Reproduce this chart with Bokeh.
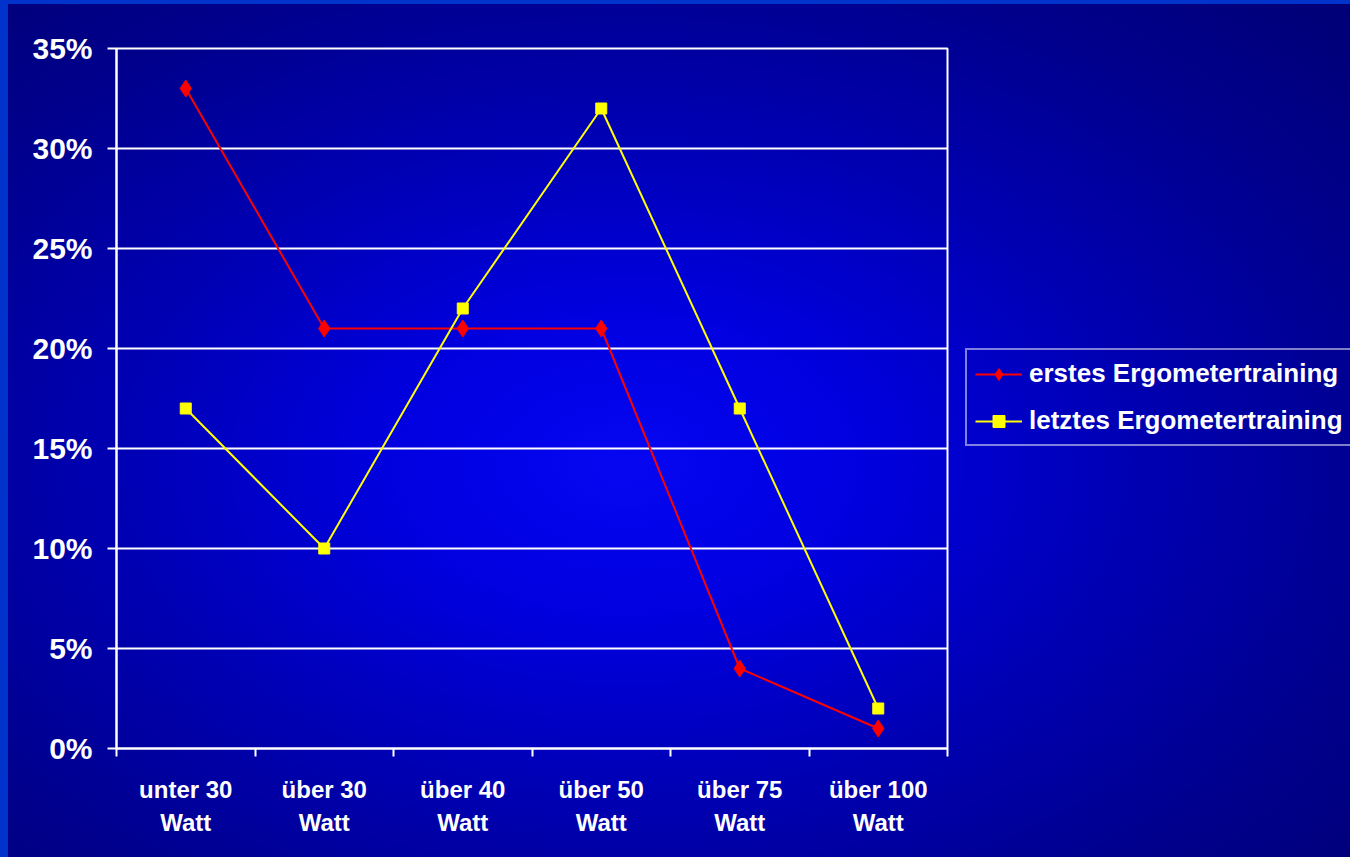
from bokeh.plotting import figure
from bokeh.layouts import row
from bokeh.models import (Range1d, FixedTicker, NumeralTickFormatter, Legend, LegendItem,
                          ColumnDataSource)
from bokeh.embed import file_html
from bokeh.resources import INLINE

categories = ["unter 30\nWatt", "über 30\nWatt", "über 40\nWatt",
              "über 50\nWatt", "über 75\nWatt", "über 100\nWatt"]
erstes = [0.33, 0.21, 0.21, 0.21, 0.04, 0.01]
letztes = [0.17, 0.10, 0.22, 0.32, 0.17, 0.02]
y_ticks = [0.0, 0.05, 0.10, 0.15, 0.20, 0.25, 0.30, 0.35]
series_names = ["erstes Ergometertraining", "letztes Ergometertraining"]

n = len(categories)
xs = [i + 0.5 for i in range(n)]
src = ColumnDataSource(dict(x=xs, erstes=erstes, letztes=letztes))

FONT = "Liberation Sans"
RED = "#ff0000"
YEL = "#ffff00"


def draw_series(fig):
    r1 = fig.line("x", "erstes", source=src, line_color=RED, line_width=2)
    m1 = fig.scatter("x", "erstes", source=src, marker="diamond", size=17,
                     fill_color=RED, line_color=RED)
    r2 = fig.line("x", "letztes", source=src, line_color=YEL, line_width=2)
    m2 = fig.scatter("x", "letztes", source=src, marker="square", size=11,
                     fill_color=YEL, line_color=YEL)
    return r1, m1, r2, m2


p = figure(width=957, height=853, output_backend="svg", toolbar_location=None,
           x_range=Range1d(0, n), y_range=Range1d(0, 0.35),
           min_border_left=108, min_border_right=18, min_border_top=44, min_border_bottom=109,
           background_fill_alpha=0, border_fill_alpha=0)

p.outline_line_color = "white"
p.outline_line_width = 2

# y axis
p.yaxis.ticker = FixedTicker(ticks=y_ticks)
p.yaxis.formatter = NumeralTickFormatter(format="0%")
p.yaxis.axis_line_color = "white"
p.yaxis.axis_line_width = 2
p.yaxis.major_tick_line_color = "white"
p.yaxis.major_tick_line_width = 2
p.yaxis.major_tick_out = 9
p.yaxis.major_tick_in = 0
p.yaxis.minor_tick_line_color = None
p.yaxis.major_label_text_color = "white"
p.yaxis.major_label_text_font = FONT
p.yaxis.major_label_text_font_style = "bold"
p.yaxis.major_label_text_font_size = "30px"
p.yaxis.major_label_standoff = 15

# x axis
p.xaxis.ticker = FixedTicker(ticks=xs, minor_ticks=list(range(n + 1)))
p.xaxis.major_label_overrides = {x: c for x, c in zip(xs, categories)}
p.xaxis.axis_line_color = "white"
p.xaxis.axis_line_width = 2
p.xaxis.major_tick_line_color = None
p.xaxis.minor_tick_line_color = "white"
p.xaxis.minor_tick_line_width = 2
p.xaxis.minor_tick_out = 8
p.xaxis.minor_tick_in = 0
p.xaxis.major_label_text_color = "white"
p.xaxis.major_label_text_font = FONT
p.xaxis.major_label_text_font_style = "bold"
p.xaxis.major_label_text_font_size = "24px"
p.xaxis.major_label_text_line_height = 1.25
p.xaxis.major_label_standoff = 19

p.xgrid.grid_line_color = None
p.ygrid.ticker = FixedTicker(ticks=y_ticks)
p.ygrid.grid_line_color = "white"
p.ygrid.grid_line_width = 2

draw_series(p)

# legend panel: separate figure to the right; its series copies lie outside its view
pl = figure(width=385, height=853, output_backend="svg", toolbar_location=None,
            x_axis_type=None, y_axis_type=None, min_border=0,
            x_range=Range1d(-2, -1), y_range=Range1d(0, 0.35),
            background_fill_alpha=0, border_fill_alpha=0)
pl.outline_line_color = None
pl.grid.grid_line_color = None
lr1, lm1, lr2, lm2 = draw_series(pl)

legend = Legend(items=[LegendItem(label=series_names[0], renderers=[lr1, lm1]),
                       LegendItem(label=series_names[1], renderers=[lr2, lm2])],
                location=(0, 302))
legend.background_fill_alpha = 0
legend.border_line_color = "white"
legend.border_line_width = 2
legend.label_text_color = "white"
legend.label_text_font = FONT
legend.label_text_font_style = "bold"
legend.label_text_font_size = "26px"
legend.glyph_width = 47
legend.glyph_height = 30
legend.label_height = 30
legend.label_standoff = 7
legend.spacing = 16
legend.padding = 8
legend.margin = 0
pl.add_layout(legend, "center")

layout = row(p, pl, width=1342, height=853,
             styles={"background": "radial-gradient(ellipse 78% 80% at 46% 54%, #0606f2 0%, #0000e0 22%, #0000b4 48%, #000090 72%, #000072 100%)",
                     "overflow": "hidden"})

html = file_html(layout, INLINE)
html = html.replace("</head>", "<style>html,body{background:#0033cc;margin:0;overflow:hidden;}body{margin:4px 0 0 8px;}</style></head>", 1)
open("out.html", "w").write(html)
